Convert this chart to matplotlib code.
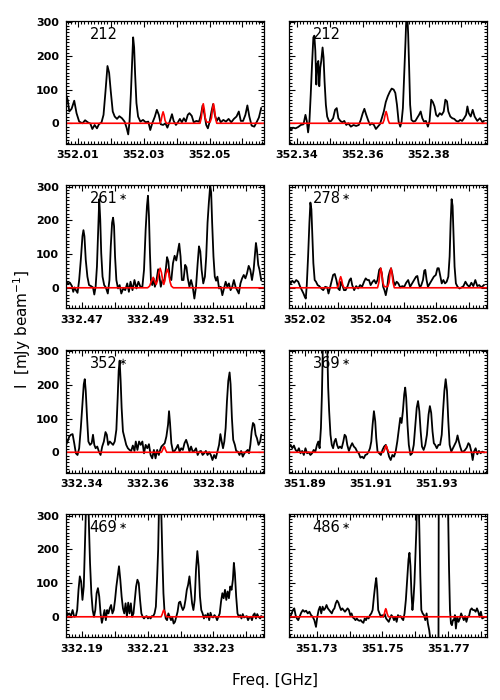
import numpy as np
import matplotlib.pyplot as plt
from matplotlib.ticker import MultipleLocator

# spectra: frequency [GHz], intensity [mJy/beam]
p1_freq = [352.0064, 352.0069, 352.0074, 352.0081, 352.0089, 352.0096, 352.0104, 352.0114, 352.0122, 352.0130,
           352.0138, 352.0144, 352.0151, 352.0158, 352.0164, 352.0172, 352.0178, 352.0184, 352.0190, 352.0195,
           352.0200, 352.0206, 352.0212, 352.0219, 352.0226, 352.0234, 352.0242, 352.0248, 352.0253, 352.0257,
           352.0261, 352.0265, 352.0268, 352.0271, 352.0274, 352.0278, 352.0283, 352.0290, 352.0298, 352.0306,
           352.0314, 352.0320, 352.0326, 352.0334, 352.0340, 352.0346, 352.0352, 352.0359, 352.0366, 352.0372,
           352.0379, 352.0386, 352.0391, 352.0398, 352.0404, 352.0410, 352.0416, 352.0422, 352.0428, 352.0434,
           352.0439, 352.0446, 352.0452, 352.0460, 352.0468, 352.0474, 352.0479, 352.0484, 352.0490, 352.0495,
           352.0500, 352.0506, 352.0511, 352.0516, 352.0522, 352.0528, 352.0534, 352.0542, 352.0550, 352.0558,
           352.0566, 352.0574, 352.0582, 352.0589, 352.0595, 352.0602, 352.0609, 352.0615, 352.0621, 352.0628,
           352.0636, 352.0644, 352.0650, 352.0657]
p1_flux = [85, 70, 35, 43, 67, 30, 5, 0, 9, 3,
           -1, -17, -5, -15, -3, 3, 25, 95, 170, 150,
           95, 35, 20, 13, 21, 15, 5, -13, -33, 5,
           85, 185, 255, 225, 145, 60, 20, 5, 10, 3,
           5, -20, 0, 20, 40, 25, -3, -5, 0, -13,
           5, 27, 7, -5, 3, 13, 3, 15, 5, 25,
           30, 22, 3, 7, 5, 25, 53, 30, -5, -15,
           3, 35, 57, 25, 7, 17, 3, 10, 5, 13,
           3, 13, 20, 35, 7, 7, 25, 53, 20, -7,
           -10, 5, 17, 45]

p2_freq = [352.3376, 352.3382, 352.3388, 352.3396, 352.3404, 352.3412, 352.3420, 352.3426, 352.3430, 352.3434,
           352.3438, 352.3442, 352.3446, 352.3450, 352.3453, 352.3456, 352.3459, 352.3462, 352.3465, 352.3468,
           352.3471, 352.3474, 352.3478, 352.3481, 352.3484, 352.3488, 352.3492, 352.3498, 352.3504, 352.3510,
           352.3516, 352.3521, 352.3526, 352.3532, 352.3538, 352.3544, 352.3550, 352.3556, 352.3564, 352.3572,
           352.3580, 352.3588, 352.3594, 352.3600, 352.3605, 352.3610, 352.3616, 352.3622, 352.3628, 352.3634,
           352.3640, 352.3646, 352.3652, 352.3658, 352.3664, 352.3670, 352.3676, 352.3682, 352.3688, 352.3694,
           352.3699, 352.3704, 352.3709, 352.3714, 352.3718, 352.3722, 352.3726, 352.3730, 352.3733, 352.3735,
           352.3738, 352.3741, 352.3744, 352.3748, 352.3754, 352.3760, 352.3766, 352.3771, 352.3776, 352.3781,
           352.3786, 352.3792, 352.3798, 352.3803, 352.3808, 352.3813, 352.3818, 352.3823, 352.3828, 352.3834,
           352.3840, 352.3846, 352.3851, 352.3856, 352.3860, 352.3866, 352.3872, 352.3878, 352.3884, 352.3890,
           352.3896, 352.3902, 352.3908, 352.3914, 352.3918, 352.3922, 352.3928, 352.3934, 352.3940, 352.3948,
           352.3956, 352.3964, 352.3968]
p2_flux = [-10, -20, -13, -15, -11, -5, -3, 25, 7, -27,
           5, 85, 175, 255, 260, 215, 115, 175, 185, 110,
           165, 185, 225, 195, 125, 55, 20, 5, 7, 15,
           40, 45, 15, 7, 3, 7, -5, 0, -10, -5,
           -8, -5, 10, 30, 43, 27, 10, -5, 0, -5,
           -17, -10, -3, 15, 35, 63, 80, 93, 103, 100,
           90, 55, 5, -10, 5, 45, 145, 245, 330, 330,
           265, 165, 55, 10, 5, 7, 17, 25, 35, 15,
           5, 7, -10, 7, 70, 63, 50, 25, 20, 30,
           25, 35, 70, 65, 35, 20, 15, 13, 7, 5,
           10, 7, 15, 25, 50, 30, 20, 40, 20, 7,
           15, 3, 7]

p3_freq = [332.4652, 332.4658, 332.4664, 332.4670, 332.4674, 332.4678, 332.4682, 332.4687, 332.4692, 332.4697,
           332.4702, 332.4705, 332.4708, 332.4712, 332.4717, 332.4722, 332.4728, 332.4734, 332.4738, 332.4742,
           332.4746, 332.4750, 332.4753, 332.4756, 332.4759, 332.4763, 332.4768, 332.4773, 332.4779, 332.4784,
           332.4788, 332.4792, 332.4795, 332.4798, 332.4801, 332.4805, 332.4810, 332.4815, 332.4820, 332.4826,
           332.4832, 332.4838, 332.4843, 332.4848, 332.4854, 332.4860, 332.4866, 332.4872, 332.4878, 332.4884,
           332.4889, 332.4894, 332.4898, 332.4901, 332.4904, 332.4907, 332.4910, 332.4914, 332.4918, 332.4922,
           332.4927, 332.4932, 332.4936, 332.4940, 332.4945, 332.4950, 332.4955, 332.4959, 332.4963, 332.4967,
           332.4972, 332.4977, 332.4982, 332.4987, 332.4992, 332.4996, 332.5000, 332.5004, 332.5009, 332.5014,
           332.5018, 332.5022, 332.5027, 332.5032, 332.5037, 332.5042, 332.5047, 332.5052, 332.5056, 332.5060,
           332.5064, 332.5069, 332.5074, 332.5078, 332.5082, 332.5086, 332.5090, 332.5093, 332.5096, 332.5100,
           332.5104, 332.5108, 332.5112, 332.5117, 332.5122, 332.5127, 332.5132, 332.5137, 332.5142, 332.5147,
           332.5152, 332.5157, 332.5162, 332.5167, 332.5172, 332.5177, 332.5182, 332.5187, 332.5192, 332.5197,
           332.5202, 332.5207, 332.5212, 332.5217, 332.5222, 332.5226, 332.5229, 332.5232, 332.5236, 332.5240,
           332.5245]
p3_flux = [18, 13, 15, 5, -12, 1, -7, -15, 23, 83,
           153, 171, 153, 83, 33, 8, 5, 1, -20, 3,
           63, 173, 263, 203, 103, 33, 8, 1, -17, 23,
           123, 193, 208, 183, 93, 23, -2, 8, -17, -2,
           -7, 13, -12, 18, -7, 23, -2, 18, 3, 3,
           53, 173, 243, 273, 213, 103, 23, 8, 28, 3,
           23, 55, 33, 3, 23, 18, 53, 91, 78, 31,
           23, 73, 95, 81, 108, 131, 93, 23, 23, 68,
           61, 28, 3, 23, 3, -32, 3, 73, 123, 108,
           53, 13, 33, 93, 193, 253, 303, 283, 193, 93,
           33, 21, 33, -2, 3, -22, -2, 18, 3, 13,
           -7, 3, 23, 3, -7, -17, 13, 28, 38, 28,
           43, 65, 53, 23, 53, 98, 133, 113, 68, 53,
           23]

p4_freq = [352.0152, 352.0157, 352.0162, 352.0168, 352.0174, 352.0180, 352.0186, 352.0191, 352.0196, 352.0200,
           352.0203, 352.0206, 352.0210, 352.0214, 352.0217, 352.0220, 352.0223, 352.0226, 352.0230, 352.0234,
           352.0239, 352.0244, 352.0250, 352.0256, 352.0262, 352.0268, 352.0272, 352.0276, 352.0281, 352.0286,
           352.0291, 352.0296, 352.0301, 352.0306, 352.0310, 352.0314, 352.0319, 352.0324, 352.0330, 352.0336,
           352.0340, 352.0344, 352.0350, 352.0356, 352.0362, 352.0368, 352.0374, 352.0380, 352.0385, 352.0390,
           352.0395, 352.0400, 352.0406, 352.0411, 352.0416, 352.0421, 352.0426, 352.0430, 352.0434, 352.0438,
           352.0442, 352.0446, 352.0450, 352.0454, 352.0458, 352.0462, 352.0466, 352.0470, 352.0474, 352.0479,
           352.0484, 352.0490, 352.0496, 352.0502, 352.0508, 352.0514, 352.0520, 352.0526, 352.0532, 352.0538,
           352.0542, 352.0546, 352.0550, 352.0554, 352.0559, 352.0563, 352.0566, 352.0570, 352.0574, 352.0580,
           352.0586, 352.0592, 352.0598, 352.0603, 352.0607, 352.0611, 352.0616, 352.0621, 352.0626, 352.0631,
           352.0636, 352.0640, 352.0643, 352.0646, 352.0649, 352.0652, 352.0655, 352.0659, 352.0664, 352.0670,
           352.0676, 352.0682, 352.0688, 352.0694, 352.0700, 352.0706, 352.0712, 352.0718, 352.0724, 352.0730,
           352.0736, 352.0744]
p4_flux = [23, 13, 21, 15, 23, 18, 3, -7, -17, -27,
           -32, 8, 93, 193, 253, 233, 153, 73, 23, 18,
           8, 5, -2, -7, 3, 1, -17, -2, 18, 38,
           41, 23, -2, -7, 18, 8, -7, -7, 5, 23,
           28, 8, -7, 5, -2, 8, 3, 18, 28, 23,
           23, 8, 18, 23, 13, 23, 53, 58, 43, 3,
           -7, -22, -2, 33, 48, 58, 41, 18, 8, 18,
           13, 1, 5, 3, 15, 23, 3, 13, 23, 33,
           35, 13, 1, 8, 23, 51, 53, 23, 3, 13,
           23, 33, 38, 58, 58, 38, 13, 23, 13, 18,
           33, 93, 193, 263, 243, 153, 63, 13, 3, -2,
           1, 5, 18, 8, 3, 15, 5, 23, 5, 8,
           1, 8]

p5_freq = [332.3352, 332.3357, 332.3362, 332.3367, 332.3372, 332.3377, 332.3382, 332.3387, 332.3392, 332.3397,
           332.3402, 332.3406, 332.3409, 332.3412, 332.3416, 332.3420, 332.3425, 332.3430, 332.3434, 332.3438,
           332.3442, 332.3447, 332.3452, 332.3457, 332.3462, 332.3467, 332.3472, 332.3476, 332.3480, 332.3485,
           332.3490, 332.3495, 332.3500, 332.3505, 332.3509, 332.3512, 332.3515, 332.3518, 332.3521, 332.3525,
           332.3530, 332.3535, 332.3540, 332.3545, 332.3550, 332.3555, 332.3560, 332.3564, 332.3569, 332.3574,
           332.3579, 332.3584, 332.3589, 332.3594, 332.3599, 332.3604, 332.3609, 332.3614, 332.3619, 332.3624,
           332.3629, 332.3634, 332.3638, 332.3642, 332.3647, 332.3652, 332.3657, 332.3662, 332.3665, 332.3668,
           332.3672, 332.3677, 332.3682, 332.3687, 332.3692, 332.3697, 332.3702, 332.3707, 332.3712, 332.3717,
           332.3722, 332.3727, 332.3732, 332.3737, 332.3742, 332.3747, 332.3752, 332.3757, 332.3762, 332.3767,
           332.3772, 332.3777, 332.3782, 332.3787, 332.3792, 332.3797, 332.3802, 332.3807, 332.3812, 332.3817,
           332.3821, 332.3825, 332.3829, 332.3833, 332.3837, 332.3841, 332.3845, 332.3849, 332.3852, 332.3856,
           332.3860, 332.3865, 332.3869, 332.3874, 332.3879, 332.3884, 332.3889, 332.3894, 332.3899, 332.3904,
           332.3908, 332.3912, 332.3916, 332.3920, 332.3924, 332.3928, 332.3932, 332.3937, 332.3942, 332.3945]
p5_flux = [22, 32, 47, 52, 54, 27, -3, -8, 12, 72,
           142, 202, 217, 182, 102, 32, 22, 27, 52, 22,
           12, 17, 2, -8, 17, 32, 60, 52, 22, 32,
           27, 22, 32, 67, 162, 242, 272, 212, 132, 62,
           42, 22, 12, 7, 4, 20, 4, 32, 7, 32,
           22, 32, -3, 22, 12, 24, -8, -18, 7, -18,
           7, -8, 7, 17, 22, 27, 47, 82, 122, 87,
           27, 2, 4, 12, 22, 2, 12, 7, 27, 37,
           22, 2, 17, 2, 4, 12, -8, 2, 4, -8,
           -3, 4, -8, 0, -8, -23, -8, -18, 2, 22,
           54, 32, 12, 32, 72, 152, 212, 237, 202, 102,
           37, 22, 4, 2, -8, 4, -13, -3, 2, 7,
           -3, 22, 62, 87, 82, 52, 42, 22, 32, 52]

p6_freq = [351.8852, 351.8857, 351.8862, 351.8867, 351.8872, 351.8877, 351.8882, 351.8887, 351.8892, 351.8897,
           351.8902, 351.8907, 351.8912, 351.8917, 351.8922, 351.8927, 351.8932, 351.8937, 351.8941, 351.8945,
           351.8949, 351.8952, 351.8955, 351.8958, 351.8962, 351.8965, 351.8968, 351.8971, 351.8974, 351.8978,
           351.8982, 351.8986, 351.8990, 351.8994, 351.8998, 351.9002, 351.9007, 351.9012, 351.9017, 351.9021,
           351.9025, 351.9029, 351.9034, 351.9039, 351.9044, 351.9049, 351.9054, 351.9059, 351.9064, 351.9069,
           351.9074, 351.9079, 351.9084, 351.9089, 351.9094, 351.9098, 351.9102, 351.9106, 351.9110, 351.9114,
           351.9117, 351.9121, 351.9126, 351.9131, 351.9136, 351.9141, 351.9146, 351.9151, 351.9156, 351.9161,
           351.9166, 351.9171, 351.9176, 351.9181, 351.9186, 351.9190, 351.9194, 351.9198, 351.9202, 351.9205,
           351.9208, 351.9212, 351.9216, 351.9221, 351.9226, 351.9231, 351.9236, 351.9240, 351.9244, 351.9248,
           351.9252, 351.9256, 351.9261, 351.9266, 351.9271, 351.9276, 351.9280, 351.9284, 351.9288, 351.9292,
           351.9296, 351.9301, 351.9306, 351.9311, 351.9316, 351.9320, 351.9324, 351.9328, 351.9332, 351.9336,
           351.9340, 351.9345, 351.9350, 351.9355, 351.9360, 351.9364, 351.9368, 351.9372, 351.9377, 351.9382,
           351.9387, 351.9392, 351.9397, 351.9401, 351.9406, 351.9410, 351.9414, 351.9419, 351.9424, 351.9429,
           351.9434, 351.9439, 351.9444]
p6_flux = [17, 22, 12, 20, 7, 2, 12, -3, 4, -8,
           12, -3, 0, -8, -3, 7, 2, 22, 32, 12,
           72, 172, 320, 340, 340, 340, 320, 192, 122, 52,
           22, 12, 32, 40, 22, 12, 17, 12, 32, 52,
           47, 22, 4, 17, 27, 17, 12, 2, -3, -16,
           -13, -18, -8, -6, 2, 12, 32, 82, 122, 92,
           42, 2, -3, -8, 7, 17, 22, 7, -13, -23,
           -8, -13, 2, 32, 72, 102, 87, 122, 172, 192,
           162, 82, 22, -8, -3, 22, 82, 132, 152, 122,
           62, 17, 7, 22, 52, 112, 137, 117, 62, 27,
           22, 12, 22, 22, 52, 122, 182, 217, 182, 92,
           22, 2, 12, 22, 32, 50, 32, 17, 2, 2,
           7, 14, 27, 22, 2, -23, 2, 12, -6, 4,
           -3, 2, 0]

p7_freq = [332.1852, 332.1857, 332.1862, 332.1867, 332.1872, 332.1877, 332.1882, 332.1886, 332.1890, 332.1894,
           332.1898, 332.1902, 332.1906, 332.1909, 332.1912, 332.1914, 332.1920, 332.1922, 332.1925, 332.1929,
           332.1933, 332.1937, 332.1941, 332.1945, 332.1949, 332.1953, 332.1957, 332.1961, 332.1965, 332.1969,
           332.1973, 332.1977, 332.1981, 332.1985, 332.1989, 332.1993, 332.1997, 332.2001, 332.2005, 332.2009,
           332.2013, 332.2017, 332.2021, 332.2025, 332.2029, 332.2033, 332.2037, 332.2041, 332.2045, 332.2049,
           332.2053, 332.2057, 332.2061, 332.2065, 332.2069, 332.2073, 332.2077, 332.2081, 332.2085, 332.2089,
           332.2093, 332.2097, 332.2101, 332.2105, 332.2109, 332.2113, 332.2117, 332.2121, 332.2125, 332.2129,
           332.2132, 332.2134, 332.2136, 332.2140, 332.2142, 332.2145, 332.2148, 332.2151, 332.2155, 332.2159,
           332.2163, 332.2167, 332.2171, 332.2175, 332.2179, 332.2183, 332.2187, 332.2191, 332.2195, 332.2199,
           332.2203, 332.2207, 332.2211, 332.2215, 332.2219, 332.2223, 332.2227, 332.2231, 332.2235, 332.2239,
           332.2243, 332.2247, 332.2251, 332.2255, 332.2259, 332.2263, 332.2267, 332.2271, 332.2275, 332.2279,
           332.2283, 332.2287, 332.2291, 332.2295, 332.2299, 332.2303, 332.2307, 332.2311, 332.2315, 332.2319,
           332.2323, 332.2327, 332.2331, 332.2335, 332.2339, 332.2343, 332.2347, 332.2351, 332.2355, 332.2359,
           332.2362, 332.2365, 332.2369, 332.2373, 332.2377, 332.2381, 332.2385, 332.2389, 332.2393, 332.2397,
           332.2401, 332.2405, 332.2409, 332.2413, 332.2417, 332.2421, 332.2425, 332.2429, 332.2433, 332.2437,
           332.2442, 332.2445]
p7_flux = [20, 5, 10, 2, 20, 0, 2, 20, 80, 120,
           105, 50, 90, 200, 300, 340, 340, 260, 160, 70,
           20, 0, 20, 70, 85, 60, 10, -18, 0, 20,
           -10, 20, 10, 25, 35, 10, 20, 50, 90, 120,
           150, 110, 60, 25, 10, 40, 0, 42, 10, 40,
           0, 10, 50, 90, 110, 100, 50, 10, 0, -5,
           0, 2, -5, 0, -5, 2, 2, 10, 30, 120,
           200, 300, 340, 340, 290, 170, 70, 20, -5, -10,
           10, 0, -10, -2, -20, -15, 0, 15, 42, 45,
           30, 20, 28, 50, 80, 95, 120, 80, 40, 20,
           50, 140, 195, 150, 60, 20, 10, -5, 5, -2,
           10, -10, 12, 0, -2, 5, 0, -10, 0, 10,
           45, 70, 55, 80, 50, 75, 55, 90, 80, 110,
           160, 130, 60, 10, 0, 5, -5, 8, -2, 0,
           2, -10, -2, 0, -10, 5, 10, -5, 8, 0,
           -5, 2]

p8_freq = [351.7216, 351.7220, 351.7224, 351.7228, 351.7232, 351.7236, 351.7240, 351.7244, 351.7248, 351.7253,
           351.7258, 351.7263, 351.7268, 351.7273, 351.7278, 351.7283, 351.7288, 351.7293, 351.7298, 351.7302,
           351.7306, 351.7310, 351.7314, 351.7318, 351.7322, 351.7326, 351.7330, 351.7334, 351.7338, 351.7342,
           351.7346, 351.7350, 351.7354, 351.7358, 351.7362, 351.7366, 351.7370, 351.7374, 351.7378, 351.7382,
           351.7386, 351.7390, 351.7394, 351.7398, 351.7402, 351.7406, 351.7410, 351.7414, 351.7418, 351.7422,
           351.7426, 351.7430, 351.7434, 351.7438, 351.7442, 351.7446, 351.7450, 351.7454, 351.7458, 351.7462,
           351.7466, 351.7470, 351.7474, 351.7478, 351.7481, 351.7484, 351.7487, 351.7491, 351.7495, 351.7499,
           351.7503, 351.7507, 351.7511, 351.7515, 351.7519, 351.7523, 351.7527, 351.7531, 351.7535, 351.7539,
           351.7543, 351.7547, 351.7551, 351.7555, 351.7559, 351.7563, 351.7567, 351.7571, 351.7575, 351.7579,
           351.7582, 351.7585, 351.7588, 351.7591, 351.7594, 351.7597, 351.7600, 351.7603, 351.7605, 351.7610,
           351.7612, 351.7615, 351.7618, 351.7622, 351.7626, 351.7630, 351.7634, 351.7638, 351.7642, 351.7646,
           351.7649, 351.7670, 351.7671, 351.7698, 351.7702, 351.7705, 351.7708, 351.7711, 351.7714, 351.7717,
           351.7720, 351.7723, 351.7727, 351.7731, 351.7735, 351.7739, 351.7743, 351.7747, 351.7751, 351.7755,
           351.7759, 351.7763, 351.7767, 351.7771, 351.7775, 351.7779, 351.7783, 351.7787, 351.7791, 351.7795,
           351.7799, 351.7803, 351.7808]
p8_flux = [-5, 0, 10, 20, 25, 5, -5, -10, 0, 12,
           20, 15, 18, 10, 15, 5, 0, -10, -30, 0,
           20, 30, 10, 30, 20, 25, 35, 25, 20, 15,
           10, 20, 25, 40, 48, 42, 30, 20, 25, 20,
           15, 20, 25, 20, 5, 10, -2, -5, -10, -5,
           -10, -12, -10, -15, -18, -5, -10, 0, -5, 5,
           10, 20, 60, 95, 115, 80, 20, 10, 0, 5,
           0, 8, -5, -10, -15, -5, 5, 0, -10, 0,
           -15, 5, 0, 2, -5, -10, 10, 50, 110, 170,
           190, 150, 70, 20, 50, 100, 180, 260, 340, 340,
           260, 120, 20, 10, 5, -10, 10, -20, -40, -70,
           -120, -120, 400, 400, 150, 20, -20, -25, -10, -10,
           5, -35, 0, -15, -5, 10, 0, -10, 2, -15,
           0, 2, 20, 25, 20, 20, 15, 25, 15, 0,
           15, -5, -2]

# red model curves
m1_freq = [352.0064, 352.0349, 352.0353, 352.0356, 352.0359, 352.0362, 352.0365, 352.0369,
           352.0471, 352.0475, 352.0478, 352.0481, 352.0484, 352.0487, 352.0491, 352.0496,
           352.0502, 352.0506, 352.0509, 352.0512, 352.0515, 352.0518, 352.0522, 352.0664]
m1_flux = [0, 0, 8, 24, 34, 24, 8, 0, 0, 16, 42, 58, 42, 16, 4, 3, 4, 16, 42, 58, 42, 16, 0, 0]
m2_freq = [352.3376, 352.3661, 352.3665, 352.3668, 352.3671, 352.3674, 352.3677, 352.3681, 352.3976]
m2_flux = [0, 0, 10, 25, 35, 25, 10, 0, 0]
m3_freq = [332.4652, 332.4900, 332.4906, 332.4911, 332.4917, 332.4922, 332.4926, 332.4930, 332.4934,
           332.4938, 332.4942, 332.4946, 332.4949, 332.4952, 332.4956, 332.4960, 332.4964, 332.4968,
           332.4972, 332.4978, 332.5252]
m3_flux = [0, 0, 5, 18, 31, 18, 10, 22, 45, 58, 45, 20, 10, 20, 43, 55, 43, 18, 5, 0, 0]
m4_freq = [352.0152, 352.0299, 352.0303, 352.0306, 352.0309, 352.0312, 352.0315, 352.0319,
           352.0421, 352.0425, 352.0428, 352.0431, 352.0434, 352.0437, 352.0441, 352.0447,
           352.0452, 352.0456, 352.0459, 352.0462, 352.0465, 352.0468, 352.0472, 352.0752]
m4_flux = [0, 0, 9, 24, 33, 24, 9, 0, 0, 16, 42, 58, 42, 16, 4, 3, 4, 16, 42, 58, 42, 16, 0, 0]
m5_freq = [332.3352, 332.3642, 332.3646, 332.3648, 332.3650, 332.3652, 332.3654, 332.3658, 332.3952]
m5_flux = [0, 0, 8, 14, 17, 14, 8, 0, 0]
m6_freq = [351.8852, 351.9139, 351.9143, 351.9145, 351.9147, 351.9149, 351.9151, 351.9155, 351.9452]
m6_flux = [0, 0, 9, 16, 20, 16, 9, 0, 0]
m7_freq = [332.1852, 332.2141, 332.2145, 332.2147, 332.2149, 332.2151, 332.2153, 332.2157, 332.2452]
m7_flux = [0, 0, 9, 16, 20, 16, 9, 0, 0]
m8_freq = [351.7216, 351.7502, 351.7506, 351.7508, 351.7510, 351.7512, 351.7514, 351.7518, 351.7816]
m8_flux = [0, 0, 10, 19, 24, 19, 10, 0, 0]

panel_labels = ['212', '212', '261*', '278*', '352*', '369*', '469*', '486*']
freq_start = [352.0064, 352.3376, 332.4652, 352.0152, 332.3352, 351.8852, 332.1852, 351.7216]
tick_labels = [['352.01', '352.03', '352.05'], ['352.34', '352.36', '352.38'],
               ['332.47', '332.49', '332.51'], ['352.02', '352.04', '352.06'],
               ['332.34', '332.36', '332.38'], ['351.89', '351.91', '351.93'],
               ['332.19', '332.21', '332.23'], ['351.73', '351.75', '351.77']]

spec_freq = [p1_freq, p2_freq, p3_freq, p4_freq, p5_freq, p6_freq, p7_freq, p8_freq]
spec_flux = [p1_flux, p2_flux, p3_flux, p4_flux, p5_flux, p6_flux, p7_flux, p8_flux]
mod_freq = [m1_freq, m2_freq, m3_freq, m4_freq, m5_freq, m6_freq, m7_freq, m8_freq]
mod_flux = [m1_flux, m2_flux, m3_flux, m4_flux, m5_flux, m6_flux, m7_flux, m8_flux]

fig = plt.figure(figsize=(5, 7), dpi=100)
lefts = [0.132, 0.578]
bottoms = [0.795, 0.56, 0.325, 0.09]
width = 0.06

for i in range(8):
    row, col = i // 2, i % 2
    ax = fig.add_axes([lefts[col], bottoms[row], 0.395, 0.1757])
    ax.plot(spec_freq[i], spec_flux[i], color='black', lw=1.3)
    ax.plot(mod_freq[i], mod_flux[i], color='red', lw=1.2)
    x0 = freq_start[i]
    ax.set_xlim(x0, x0 + width)
    ax.set_ylim(-60, 305)

    majors = np.arange(np.ceil(x0 / 0.01) * 0.01, x0 + width, 0.01)
    labs = [f'{t:.2f}' if f'{t:.2f}' in tick_labels[i] else '' for t in majors]
    ax.set_xticks(majors)
    ax.set_xticklabels(labs)
    ax.xaxis.set_minor_locator(MultipleLocator(0.001))
    ax.set_yticks([0, 100, 200, 300])
    ax.yaxis.set_minor_locator(MultipleLocator(10))
    if col == 1:
        ax.set_yticklabels([])
    ax.tick_params(which='both', direction='in', top=True, right=True, width=0.8)
    ax.tick_params(which='major', length=4, labelsize=8, pad=5)
    ax.tick_params(which='minor', length=2)
    for t in ax.get_xticklabels() + ax.get_yticklabels():
        t.set_fontweight('bold')
    for s in ax.spines.values():
        s.set_linewidth(0.9)

    name = panel_labels[i]
    txt = ax.text(0.12, 0.95, name.rstrip('*'), transform=ax.transAxes,
                  fontsize=10.5, va='top', ha='left')
    if name.endswith('*'):
        # small star at mid-height after the number
        ax.annotate(r'$\ast$', xy=(1.0, 0.62), xycoords=txt, xytext=(0.5, 0),
                    textcoords='offset points', fontsize=7, va='center', ha='left')

fig.text(0.045, 0.53, r'I  [mJy beam$^{-1}$]', rotation=90, fontsize=11, ha='center', va='center')
fig.text(0.55, 0.028, 'Freq. [GHz]', fontsize=11, ha='center', va='center')

plt.savefig('out.png', dpi=100)
